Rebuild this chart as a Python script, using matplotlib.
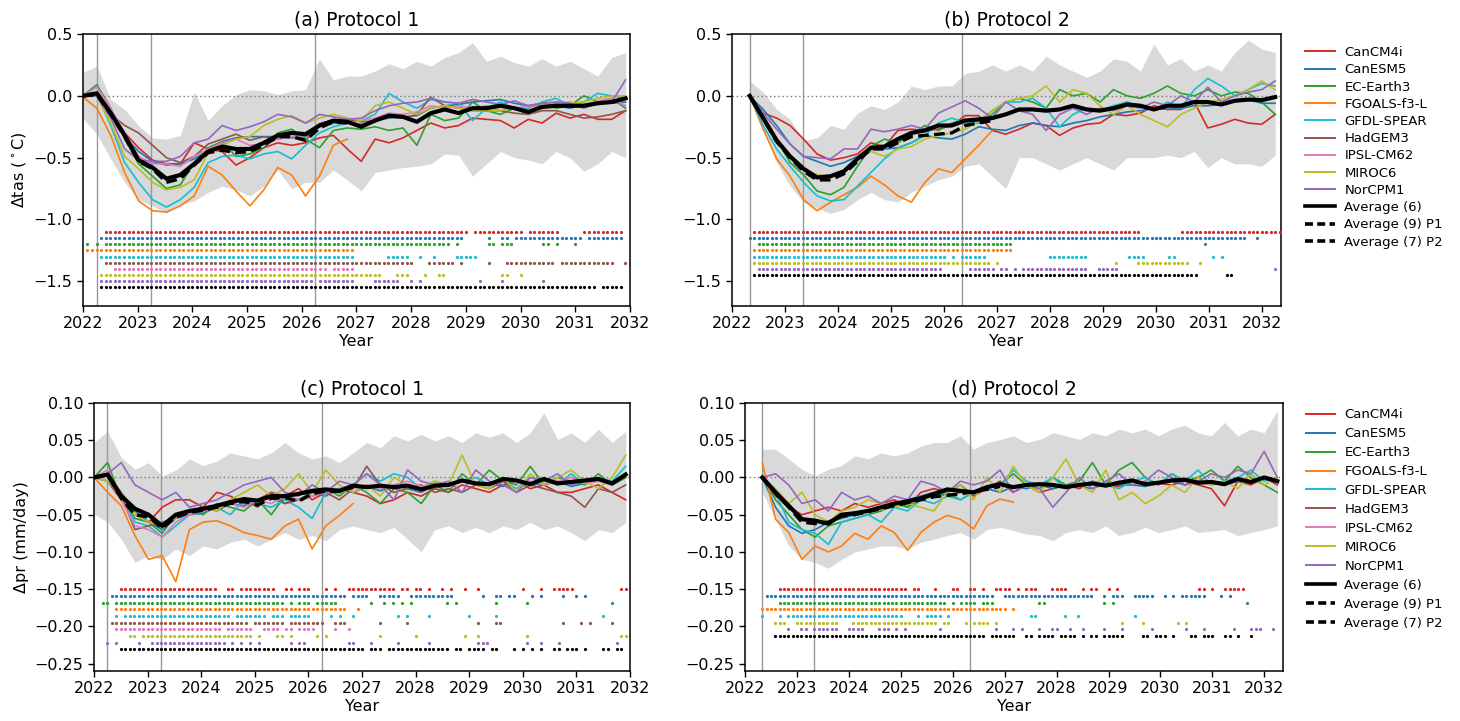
import numpy as np
import matplotlib
matplotlib.use("Agg")
import matplotlib.pyplot as plt
from matplotlib.lines import Line2D

# ---------------- metadata ----------------
models = ["CanCM4i", "CanESM5", "EC-Earth3", "FGOALS-f3-L", "GFDL-SPEAR",
          "HadGEM3", "IPSL-CM62", "MIROC6", "NorCPM1"]
model_colors = ["tab:red", "tab:blue", "tab:green", "tab:orange", "tab:cyan",
                "tab:brown", "tab:pink", "tab:olive", "tab:purple"]
p2_models = ["CanCM4i", "CanESM5", "EC-Earth3", "FGOALS-f3-L", "GFDL-SPEAR",
             "MIROC6", "NorCPM1"]
year_ticks = list(range(2022, 2033))
titles = ["(a) Protocol 1", "(b) Protocol 2", "(c) Protocol 1", "(d) Protocol 2"]
avg_labels = ["Average (6)", "Average (9) P1", "Average (7) P2"]

# time axes (start/end of the plotted series, in years)
p1_start, p1_end = 2022.0, 2031.92
p2_start, p2_end = 2022.333, 2032.25
n_pts = 40
p1_eruption = [2022.25, 2023.25, 2026.25]
p2_eruption = [2022.333, 2023.333, 2026.333]

nan = np.nan

# ---------------- (a) tas, protocol 1 ----------------
tas1_CanCM4i = [0.00, 0.03, -0.12, -0.30, -0.42, -0.52, -0.55, -0.55, -0.38, -0.43, -0.45, -0.56, -0.50, -0.42, -0.38, -0.40, -0.38, -0.34, -0.32, -0.43,
                -0.53, -0.35, -0.38, -0.34, -0.28, -0.22, -0.26, -0.24, -0.18, -0.19, -0.20, -0.26, -0.19, -0.22, -0.14, -0.18, -0.15, -0.19, -0.19, -0.12]
tas1_CanESM5 = [0.00, 0.00, -0.15, -0.33, -0.45, -0.53, -0.56, -0.55, -0.51, -0.44, -0.37, -0.34, -0.33, -0.33, -0.33, -0.34, -0.33, -0.25, -0.22, -0.22,
                -0.23, -0.20, -0.18, -0.17, -0.16, -0.10, -0.08, -0.07, -0.05, -0.04, -0.03, -0.06, -0.08, -0.06, -0.08, -0.10, -0.07, -0.05, -0.06, -0.05]
tas1_ECEarth3 = [0.00, 0.09, -0.10, -0.35, -0.55, -0.65, -0.75, -0.72, -0.54, -0.42, -0.37, -0.49, -0.47, -0.42, -0.30, -0.27, -0.35, -0.42, -0.28, -0.26,
                 -0.27, -0.25, -0.28, -0.26, -0.40, -0.15, -0.20, -0.18, -0.05, -0.12, -0.15, -0.10, -0.15, -0.05, -0.10, -0.08, 0.00, -0.05, -0.02, -0.10]
tas1_FGOALS = [-0.01, -0.10, -0.32, -0.62, -0.85, -0.93, -0.94, -0.89, -0.81, -0.57, -0.64, -0.77, -0.89, -0.76, -0.58, -0.64, -0.81, -0.65, -0.40, -0.35,
               nan, nan, nan, nan, nan, nan, nan, nan, nan, nan, nan, nan, nan, nan, nan, nan, nan, nan, nan, nan]
tas1_GFDL = [0.00, 0.01, -0.24, -0.54, -0.70, -0.84, -0.90, -0.84, -0.74, -0.54, -0.49, -0.48, -0.51, -0.47, -0.45, -0.51, -0.40, -0.30, -0.25, -0.22,
             -0.20, -0.15, 0.02, -0.05, -0.10, -0.03, -0.05, -0.06, -0.20, -0.10, -0.05, -0.10, -0.10, -0.05, -0.02, -0.08, -0.05, 0.02, 0.00, -0.02]
tas1_HadGEM3 = [0.00, 0.02, -0.15, -0.24, -0.30, -0.40, -0.50, -0.54, -0.49, -0.39, -0.35, -0.31, -0.36, -0.33, -0.35, -0.33, -0.36, -0.24, -0.20, -0.19,
                -0.21, -0.20, -0.17, -0.18, -0.15, -0.01, -0.08, -0.10, -0.12, -0.12, -0.12, -0.14, -0.15, -0.12, -0.12, -0.15, -0.18, -0.17, -0.15, -0.12]
tas1_IPSL = [0.00, 0.07, -0.10, -0.30, -0.49, -0.55, -0.55, -0.57, -0.49, -0.43, -0.38, -0.35, -0.40, -0.39, -0.35, -0.33, -0.32, -0.22, -0.20, -0.22,
             -0.20, -0.18, -0.14, -0.15, -0.13, -0.08, -0.10, -0.08, -0.10, -0.08, -0.12, -0.10, -0.08, -0.10, -0.06, -0.05, -0.08, -0.04, -0.02, -0.08]
tas1_MIROC6 = [0.00, 0.00, -0.22, -0.49, -0.59, -0.70, -0.76, -0.74, -0.68, -0.46, -0.40, -0.35, -0.33, -0.24, -0.19, -0.16, -0.22, -0.18, -0.15, -0.18,
               -0.20, -0.08, -0.05, -0.10, -0.15, -0.10, -0.08, -0.10, -0.12, -0.12, -0.12, -0.10, -0.12, -0.08, -0.05, -0.06, -0.05, -0.02, 0.00, 0.00]
tas1_NorCPM1 = [0.00, 0.00, -0.18, -0.43, -0.52, -0.53, -0.53, -0.49, -0.38, -0.35, -0.24, -0.28, -0.25, -0.21, -0.15, -0.17, -0.22, -0.15, -0.17, -0.19,
                -0.18, -0.12, -0.08, -0.06, -0.05, -0.02, -0.05, -0.06, -0.03, -0.05, -0.07, -0.04, -0.08, -0.06, -0.05, -0.06, -0.10, -0.06, -0.05, 0.13]
tas1_avg6 = [0.00, 0.02, -0.14, -0.32, -0.52, -0.58, -0.67, -0.64, -0.55, -0.45, -0.41, -0.43, -0.43, -0.38, -0.32, -0.30, -0.31, -0.24, -0.20, -0.21,
             -0.25, -0.20, -0.16, -0.17, -0.21, -0.14, -0.11, -0.14, -0.10, -0.10, -0.08, -0.10, -0.13, -0.09, -0.08, -0.08, -0.08, -0.06, -0.05, -0.02]
tas1_avg9 = [0.00, 0.01, -0.15, -0.33, -0.53, -0.59, -0.70, -0.67, -0.56, -0.46, -0.44, -0.46, -0.45, -0.40, -0.33, -0.33, -0.36, -0.26, -0.21, -0.22,
             nan, nan, nan, nan, nan, nan, nan, nan, nan, nan, nan, nan, nan, nan, nan, nan, nan, nan, nan, nan]
tas1_lo = [-0.18, -0.31, -0.51, -0.70, -0.84, -0.89, -0.95, -0.88, -0.85, -0.78, -0.73, -0.76, -0.81, -0.73, -0.60, -0.75, -0.70, -0.70, -0.60, -0.68,
           -0.77, -0.62, -0.60, -0.58, -0.57, -0.55, -0.47, -0.48, -0.65, -0.55, -0.45, -0.50, -0.52, -0.55, -0.45, -0.50, -0.61, -0.55, -0.45, -0.50]
tas1_hi = [0.19, 0.24, -0.03, -0.11, -0.24, -0.34, -0.35, -0.32, 0.03, -0.20, -0.08, 0.01, 0.05, 0.04, 0.01, 0.04, 0.05, 0.30, 0.13, 0.16,
           0.16, 0.20, 0.26, 0.22, 0.28, 0.24, 0.31, 0.35, 0.43, 0.28, 0.32, 0.27, 0.24, 0.30, 0.24, 0.28, 0.22, 0.16, 0.31, 0.35]

# ---------------- (b) tas, protocol 2 ----------------
tas2_CanCM4i = [0.00, -0.14, -0.18, -0.24, -0.35, -0.47, -0.52, -0.50, -0.47, -0.38, -0.41, -0.28, -0.27, -0.28, -0.27, -0.24, -0.16, -0.16, -0.28, -0.31,
                -0.27, -0.22, -0.24, -0.32, -0.26, -0.23, -0.22, -0.15, -0.16, -0.14, -0.08, -0.11, -0.11, -0.05, -0.26, -0.23, -0.19, -0.22, -0.23, -0.15]
tas2_CanESM5 = [0.00, -0.11, -0.24, -0.39, -0.49, -0.53, -0.57, -0.54, -0.49, -0.42, -0.43, -0.42, -0.38, -0.32, -0.34, -0.35, -0.31, -0.25, -0.27, -0.28,
                -0.24, -0.22, -0.24, -0.25, -0.22, -0.20, -0.17, -0.15, -0.13, -0.12, -0.10, -0.11, -0.10, -0.08, -0.08, -0.07, -0.04, -0.03, -0.06, -0.06]
tas2_ECEarth3 = [0.00, -0.16, -0.35, -0.54, -0.64, -0.77, -0.80, -0.74, -0.57, -0.41, -0.35, -0.38, -0.31, -0.24, -0.28, -0.22, -0.19, -0.22, -0.15, -0.05,
                 -0.02, -0.05, -0.10, 0.05, 0.00, 0.02, -0.05, 0.05, 0.00, -0.02, 0.02, 0.08, 0.02, 0.00, 0.05, 0.00, 0.03, 0.02, -0.05, -0.15]
tas2_FGOALS = [0.00, -0.27, -0.51, -0.65, -0.84, -0.93, -0.86, -0.80, -0.74, -0.65, -0.72, -0.81, -0.86, -0.70, -0.59, -0.62, -0.51, -0.40, -0.28,
               nan, nan, nan, nan, nan, nan, nan, nan, nan, nan, nan, nan, nan, nan, nan, nan, nan, nan, nan, nan, nan]
tas2_GFDL = [0.00, -0.24, -0.43, -0.57, -0.70, -0.81, -0.85, -0.84, -0.73, -0.62, -0.51, -0.42, -0.38, -0.32, -0.22, -0.18, -0.22, -0.22, -0.12, -0.05,
             -0.05, -0.02, -0.10, -0.25, -0.15, -0.10, -0.12, -0.08, -0.05, -0.08, -0.12, -0.05, -0.10, 0.05, 0.14, 0.08, 0.00, 0.05, 0.10, 0.08]
tas2_MIROC6 = [0.00, -0.15, -0.34, -0.49, -0.59, -0.64, -0.65, -0.62, -0.51, -0.45, -0.49, -0.43, -0.41, -0.35, -0.32, -0.30, -0.27, -0.20, -0.12, -0.05,
               -0.02, 0.00, 0.08, -0.05, 0.05, 0.02, -0.08, -0.15, -0.08, -0.15, -0.20, -0.25, -0.15, -0.10, -0.05, -0.03, 0.00, 0.05, 0.12, 0.05]
tas2_NorCPM1 = [0.00, -0.14, -0.27, -0.39, -0.49, -0.50, -0.51, -0.43, -0.43, -0.27, -0.29, -0.27, -0.24, -0.27, -0.14, -0.09, -0.04, -0.10, -0.18, -0.05,
                -0.12, -0.15, -0.28, -0.15, -0.10, -0.15, -0.10, -0.12, -0.08, -0.10, -0.05, -0.08, 0.00, -0.05, 0.07, -0.05, 0.00, 0.03, 0.05, 0.12]
tas2_avg6 = [0.00, -0.18, -0.36, -0.49, -0.59, -0.66, -0.65, -0.61, -0.51, -0.42, -0.41, -0.35, -0.30, -0.28, -0.24, -0.24, -0.20, -0.19, -0.18, -0.15,
             -0.11, -0.11, -0.12, -0.11, -0.08, -0.11, -0.12, -0.10, -0.07, -0.08, -0.11, -0.08, -0.08, -0.05, -0.05, -0.07, -0.04, -0.03, -0.035, -0.01]
tas2_avg7 = [0.00, -0.18, -0.37, -0.50, -0.61, -0.68, -0.68, -0.63, -0.53, -0.43, -0.43, -0.38, -0.33, -0.32, -0.31, -0.30, -0.24, -0.22, -0.20,
             nan, nan, nan, nan, nan, nan, nan, nan, nan, nan, nan, nan, nan, nan, nan, nan, nan, nan, nan, nan, nan]
tas2_lo = [0.00, -0.27, -0.54, -0.73, -0.86, -0.91, -0.95, -0.92, -0.84, -0.78, -0.84, -0.86, -0.78, -0.73, -0.68, -0.65, -0.57, -0.55, -0.65, -0.75,
           -0.50, -0.50, -0.55, -0.60, -0.55, -0.50, -0.55, -0.60, -0.50, -0.50, -0.50, -0.48, -0.50, -0.45, -0.58, -0.50, -0.55, -0.55, -0.57, -0.48]
tas2_hi = [0.12, 0.03, -0.11, -0.19, -0.36, -0.34, -0.24, -0.27, -0.14, -0.08, -0.11, -0.05, 0.08, 0.05, 0.08, 0.08, 0.18, 0.20, 0.25, 0.20,
           0.25, 0.20, 0.32, 0.25, 0.20, 0.15, 0.20, 0.30, 0.28, 0.20, 0.42, 0.25, 0.30, 0.20, 0.25, 0.20, 0.35, 0.45, 0.38, 0.35]

# ---------------- (c) pr, protocol 1 ----------------
pr1_CanCM4i = [0.0, -0.005, -0.03, -0.05, -0.06, -0.04, -0.03, -0.03, -0.04, -0.02, -0.025, -0.035, -0.03, -0.02, -0.025, -0.015, -0.03, -0.02, -0.015, -0.02,
               -0.025, -0.035, -0.03, -0.02, -0.025, -0.015, -0.02, -0.01, -0.015, -0.02, -0.01, -0.005, -0.015, -0.01, -0.02, -0.02, -0.015, -0.01, -0.02, -0.03]
pr1_CanESM5 = [0.0, 0.002, -0.02, -0.045, -0.06, -0.07, -0.055, -0.05, -0.048, -0.04, -0.035, -0.038, -0.03, -0.028, -0.035, -0.03, -0.02, -0.025, -0.015, -0.02,
               -0.012, -0.018, -0.01, -0.015, -0.02, -0.01, -0.012, -0.005, -0.01, -0.008, -0.012, -0.003, -0.008, -0.01, -0.005, -0.012, -0.008, -0.004, -0.01, 0.0]
pr1_ECEarth3 = [0.0, 0.02, -0.03, -0.055, -0.06, -0.075, -0.05, -0.045, -0.05, -0.035, -0.04, -0.045, -0.03, -0.05, -0.025, -0.03, -0.02, -0.015, -0.025, -0.01,
                -0.02, -0.035, -0.015, -0.02, -0.035, -0.01, -0.02, 0.005, -0.01, 0.01, -0.005, -0.01, 0.015, -0.01, 0.0, -0.005, -0.01, 0.005, -0.01, 0.0]
pr1_FGOALS = [0.0, -0.02, -0.038, -0.078, -0.11, -0.105, -0.14, -0.07, -0.06, -0.058, -0.065, -0.074, -0.078, -0.083, -0.065, -0.056, -0.096, -0.065, -0.051, -0.035,
              nan, nan, nan, nan, nan, nan, nan, nan, nan, nan, nan, nan, nan, nan, nan, nan, nan, nan, nan, nan]
pr1_GFDL = [0.0, -0.005, -0.025, -0.06, -0.065, -0.08, -0.065, -0.05, -0.045, -0.04, -0.05, -0.03, -0.035, -0.04, -0.03, -0.04, -0.055, -0.02, -0.015, -0.01,
            0.005, -0.005, 0.005, 0.0, -0.015, -0.005, -0.01, -0.005, 0.0, -0.01, -0.005, -0.015, 0.0, -0.005, -0.01, 0.005, -0.01, 0.0, -0.005, 0.015]
pr1_HadGEM3 = [0.0, 0.005, -0.025, -0.07, -0.065, -0.06, -0.055, -0.045, -0.04, -0.045, -0.035, -0.03, -0.04, -0.02, -0.035, -0.03, -0.025, -0.02, -0.03, -0.015,
               0.015, -0.01, -0.02, -0.015, -0.01, -0.02, -0.015, -0.02, -0.01, -0.015, -0.005, -0.02, -0.01, -0.015, -0.02, -0.025, -0.04, -0.015, -0.02, -0.01]
pr1_IPSL = [0.0, 0.01, -0.03, -0.065, -0.07, -0.08, -0.06, -0.05, -0.045, -0.04, -0.035, -0.04, -0.03, -0.035, -0.025, -0.03, -0.025, -0.02, -0.02, -0.015,
            -0.01, -0.015, -0.01, -0.005, -0.012, -0.008, -0.01, -0.005, -0.008, -0.01, 0.0, -0.008, -0.005, -0.01, -0.005, 0.0, -0.008, -0.005, -0.01, 0.005]
pr1_MIROC6 = [0.0, -0.005, -0.02, -0.05, -0.06, -0.065, -0.055, -0.045, -0.04, -0.045, -0.03, -0.02, -0.01, -0.025, -0.015, 0.005, -0.02, 0.01, -0.01, -0.02,
              -0.01, -0.025, 0.0, -0.01, -0.015, -0.005, -0.01, 0.03, -0.01, -0.015, 0.0, -0.02, 0.005, -0.01, 0.0, 0.01, -0.005, -0.015, 0.0, 0.03]
pr1_NorCPM1 = [0.0, 0.005, 0.02, -0.01, -0.02, -0.03, -0.02, -0.04, -0.035, -0.03, -0.02, -0.01, -0.005, 0.0, -0.02, -0.025, -0.01, -0.02, -0.005, -0.01,
               0.005, -0.01, -0.03, 0.01, -0.005, -0.01, -0.005, -0.02, 0.01, -0.005, -0.01, -0.02, 0.0, -0.005, 0.005, -0.01, -0.005, 0.0, -0.01, 0.005]
pr1_avg6 = [0.0, 0.004, -0.025, -0.042, -0.05, -0.065, -0.05, -0.045, -0.042, -0.038, -0.033, -0.029, -0.031, -0.025, -0.025, -0.022, -0.018, -0.016, -0.018, -0.011,
            -0.013, -0.011, -0.013, -0.011, -0.016, -0.011, -0.010, -0.004, -0.008, -0.009, -0.002, -0.004, -0.009, -0.002, -0.008, -0.006, -0.004, -0.002, -0.008, 0.004]
pr1_avg9 = [0.0, 0.003, -0.028, -0.05, -0.053, -0.068, -0.053, -0.047, -0.044, -0.04, -0.035, -0.032, -0.037, -0.028, -0.027, -0.032, -0.022, -0.018, -0.019, -0.013,
            nan, nan, nan, nan, nan, nan, nan, nan, nan, nan, nan, nan, nan, nan, nan, nan, nan, nan, nan, nan]
pr1_lo = [-0.049, -0.06, -0.083, -0.114, -0.105, -0.11, -0.096, -0.105, -0.092, -0.096, -0.087, -0.083, -0.092, -0.083, -0.074, -0.083, -0.078, -0.085, -0.07, -0.065,
          -0.07, -0.074, -0.067, -0.083, -0.1, -0.07, -0.065, -0.074, -0.067, -0.074, -0.065, -0.07, -0.06, -0.07, -0.065, -0.074, -0.085, -0.07, -0.074, -0.06]
pr1_hi = [0.047, 0.062, 0.027, 0.011, 0.02, 0.002, 0.01, 0.025, 0.016, 0.022, 0.033, 0.029, 0.025, 0.033, 0.047, 0.033, 0.025, 0.029, 0.02, 0.033,
          0.047, 0.04, 0.056, 0.049, 0.058, 0.049, 0.056, 0.047, 0.06, 0.054, 0.06, 0.047, 0.06, 0.087, 0.051, 0.06, 0.047, 0.065, 0.047, 0.062]

# ---------------- (d) pr, protocol 2 ----------------
pr2_CanCM4i = [0.0, -0.025, -0.04, -0.05, -0.045, -0.04, -0.045, -0.035, -0.04, -0.035, -0.03, -0.04, -0.02, -0.015, -0.02, -0.01, -0.025, -0.015, -0.005, -0.02,
               -0.01, -0.02, -0.015, -0.01, -0.015, -0.005, -0.01, -0.012, -0.005, -0.01, -0.008, -0.01, -0.005, -0.01, -0.015, -0.038, -0.005, -0.01, 0.0, -0.01]
pr2_CanESM5 = [0.0, -0.04, -0.065, -0.075, -0.07, -0.06, -0.055, -0.05, -0.045, -0.04, -0.038, -0.03, -0.025, -0.02, -0.025, -0.02, -0.018, -0.015, -0.02, -0.012,
               -0.015, -0.01, -0.015, -0.01, -0.012, -0.015, -0.008, -0.01, -0.01, -0.012, -0.008, -0.005, -0.01, -0.005, -0.008, -0.01, -0.005, -0.008, 0.0, -0.005]
pr2_ECEarth3 = [0.0, -0.03, -0.05, -0.07, -0.08, -0.065, -0.06, -0.055, -0.05, -0.045, -0.035, -0.04, -0.03, -0.025, -0.02, -0.03, -0.02, -0.015, -0.01, 0.005,
                -0.01, -0.015, 0.0, -0.01, -0.005, 0.02, -0.01, 0.01, 0.02, 0.0, -0.01, 0.005, -0.005, 0.0, 0.01, -0.005, 0.015, 0.0, -0.01, -0.02]
pr2_FGOALS = [0.02, -0.056, -0.074, -0.11, -0.092, -0.1, -0.092, -0.075, -0.083, -0.065, -0.074, -0.098, -0.074, -0.06, -0.051, -0.056, -0.069, -0.038, -0.029, -0.033,
              nan, nan, nan, nan, nan, nan, nan, nan, nan, nan, nan, nan, nan, nan, nan, nan, nan, nan, nan, nan]
pr2_GFDL = [0.0, -0.02, -0.06, -0.07, -0.075, -0.09, -0.06, -0.055, -0.05, -0.06, -0.04, -0.045, -0.03, -0.035, -0.025, -0.03, -0.02, -0.015, -0.01, 0.01,
            -0.005, -0.01, 0.0, -0.015, -0.01, -0.005, -0.01, -0.015, -0.005, 0.0, -0.01, 0.005, -0.005, 0.01, -0.01, -0.005, 0.0, 0.01, -0.005, 0.0]
pr2_MIROC6 = [0.0, -0.015, -0.035, -0.02, -0.05, -0.06, -0.045, -0.04, -0.03, -0.035, -0.04, -0.035, -0.04, -0.045, -0.02, -0.01, -0.03, 0.0, -0.02, 0.015,
              -0.01, -0.02, 0.0, 0.025, -0.01, -0.02, 0.01, -0.03, -0.02, -0.035, -0.025, -0.01, -0.02, 0.0, -0.01, -0.005, -0.015, 0.005, -0.01, 0.0]
pr2_NorCPM1 = [0.0, 0.005, -0.01, -0.035, -0.03, -0.045, -0.02, -0.03, -0.025, -0.035, -0.025, -0.03, -0.005, -0.01, -0.02, -0.005, -0.01, -0.005, 0.01, -0.02,
               -0.01, -0.015, -0.04, -0.02, 0.0, -0.015, -0.005, 0.005, -0.01, -0.005, 0.01, 0.0, -0.01, -0.005, 0.005, 0.0, 0.01, 0.005, 0.035, 0.0]
pr2_avg6 = [0.0, -0.02, -0.038, -0.056, -0.058, -0.062, -0.05, -0.048, -0.045, -0.04, -0.035, -0.032, -0.028, -0.022, -0.016, -0.018, -0.02, -0.013, -0.009, -0.013,
            -0.01, -0.009, -0.01, -0.013, -0.01, -0.008, -0.011, -0.007, -0.004, -0.009, -0.007, -0.004, -0.003, -0.007, -0.006, -0.009, -0.002, -0.006, 0.0, -0.005]
pr2_avg7 = [0.0, -0.021, -0.04, -0.06, -0.062, -0.06, -0.052, -0.05, -0.046, -0.042, -0.038, -0.034, -0.03, -0.026, -0.024, -0.022, -0.019, -0.016, -0.012,
            nan, nan, nan, nan, nan, nan, nan, nan, nan, nan, nan, nan, nan, nan, nan, nan, nan, nan, nan, nan, nan]
pr2_lo = [-0.02, -0.056, -0.092, -0.11, -0.114, -0.122, -0.11, -0.1, -0.096, -0.092, -0.092, -0.096, -0.087, -0.083, -0.078, -0.074, -0.083, -0.07, -0.067, -0.071,
          -0.076, -0.078, -0.085, -0.074, -0.07, -0.074, -0.065, -0.078, -0.074, -0.067, -0.074, -0.07, -0.065, -0.074, -0.072, -0.07, -0.078, -0.074, -0.07, -0.065]
pr2_hi = [0.038, 0.038, 0.025, 0.011, 0.002, 0.011, 0.016, 0.029, 0.025, 0.033, 0.029, 0.033, 0.042, 0.047, 0.047, 0.056, 0.038, 0.047, 0.051, 0.056,
          0.047, 0.051, 0.06, 0.056, 0.051, 0.06, 0.056, 0.065, 0.06, 0.065, 0.056, 0.065, 0.07, 0.06, 0.056, 0.074, 0.056, 0.065, 0.06, 0.09]

# ---------------- significance (start, end) in years, monthly dots ----------------
sig_tas1_CanCM4i = [(2022.40, 2029.00), (2029.13, 2030.00), (2030.15, 2030.66), (2031.20, 2031.82)]
sig_tas1_CanESM5 = [(2022.32, 2028.93), (2029.41, 2029.41), (2029.65, 2029.74), (2029.89, 2031.09), (2031.22, 2031.82)]
sig_tas1_ECEarth3 = [(2022.09, 2022.09), (2022.26, 2022.26), (2022.40, 2028.67), (2028.83, 2028.83), (2029.39, 2029.50), (2029.65, 2029.83),
                     (2030.39, 2030.50), (2030.66, 2030.66), (2030.99, 2030.99)]
sig_tas1_FGOALS = [(2022.09, 2026.92)]
sig_tas1_GFDL = [(2022.32, 2026.92), (2027.58, 2027.92), (2028.17, 2028.17), (2028.41, 2028.41), (2028.81, 2029.16)]
sig_tas1_HadGEM3 = [(2022.40, 2028.00), (2028.31, 2028.77), (2028.91, 2028.91), (2029.41, 2029.41), (2029.72, 2030.00), (2030.12, 2030.22),
                    (2030.32, 2030.59), (2030.73, 2031.67), (2031.90, 2031.90)]
sig_tas1_IPSL = [(2022.57, 2026.38), (2026.57, 2026.92)]
sig_tas1_MIROC6 = [(2022.32, 2027.42), (2027.73, 2027.92), (2028.23, 2028.23), (2028.49, 2028.58), (2029.65, 2029.74), (2029.98, 2029.98)]
sig_tas1_NorCPM1 = [(2022.32, 2026.19), (2026.32, 2026.92), (2027.30, 2027.73), (2028.00, 2028.00), (2028.17, 2028.17), (2029.23, 2029.23),
                    (2029.66, 2029.66), (2030.39, 2030.39)]
sig_tas1_avg = [(2022.32, 2031.36), (2031.47, 2031.82)]

sig_tas2_CanCM4i = [(2022.39, 2029.64), (2030.53, 2030.73), (2030.82, 2032.30)]
sig_tas2_CanESM5 = [(2022.32, 2031.06), (2031.18, 2031.65), (2031.89, 2031.89), (2032.04, 2032.04)]
sig_tas2_ECEarth3 = [(2022.49, 2027.06), (2027.19, 2027.28), (2030.88, 2030.88)]
sig_tas2_FGOALS = [(2022.42, 2027.21)]
sig_tas2_GFDL = [(2022.42, 2026.04), (2026.19, 2026.19), (2026.34, 2026.72), (2028.02, 2028.47), (2028.60, 2028.70), (2029.53, 2029.72),
                 (2030.21, 2030.30), (2031.10, 2031.10), (2031.27, 2031.27)]
sig_tas2_MIROC6 = [(2022.42, 2026.87), (2027.02, 2027.02), (2029.21, 2029.21), (2029.66, 2030.60), (2030.84, 2030.84)]
sig_tas2_NorCPM1 = [(2022.49, 2025.89), (2026.51, 2026.91), (2027.04, 2027.13), (2027.36, 2027.36), (2027.51, 2028.23), (2028.36, 2028.55),
                    (2028.68, 2028.68), (2028.93, 2029.23), (2030.04, 2030.04), (2032.25, 2032.25)]
sig_tas2_avg = [(2022.42, 2030.14), (2030.23, 2030.78), (2031.32, 2031.43)]

sig_pr1_CanCM4i = [(2022.49, 2024.29), (2024.48, 2024.58), (2024.74, 2025.35), (2025.58, 2025.70), (2025.82, 2026.01), (2026.33, 2026.33),
                   (2026.51, 2026.51), (2026.74, 2027.60), (2027.74, 2027.84), (2028.00, 2028.10), (2028.25, 2028.25), (2028.50, 2028.50),
                   (2028.67, 2028.67), (2028.92, 2028.92), (2029.17, 2029.17), (2029.99, 2029.99), (2030.33, 2030.33), (2030.57, 2030.94),
                   (2031.83, 2031.92)]
sig_pr1_CanESM5 = [(2022.32, 2026.68), (2026.82, 2027.10), (2027.33, 2027.70), (2027.90, 2028.39), (2028.50, 2028.50), (2028.59, 2028.68),
                   (2029.26, 2029.26), (2029.51, 2029.60), (2029.75, 2029.84), (2030.16, 2030.16), (2030.33, 2030.33), (2030.75, 2030.75),
                   (2031.00, 2031.00), (2031.18, 2031.18)]
sig_pr1_ECEarth3 = [(2022.15, 2022.27), (2022.40, 2025.53), (2025.66, 2025.66), (2025.82, 2025.97), (2026.15, 2026.52), (2027.17, 2027.17),
                    (2027.41, 2027.41), (2027.59, 2027.59), (2027.74, 2027.74), (2027.90, 2027.90), (2028.58, 2028.58), (2028.76, 2028.76),
                    (2029.51, 2029.51), (2030.08, 2030.08), (2031.67, 2031.67)]
sig_pr1_FGOALS = [(2022.40, 2026.70), (2026.92, 2026.92)]
sig_pr1_GFDL = [(2022.42, 2022.42), (2022.58, 2024.52), (2024.68, 2024.88), (2025.02, 2025.17), (2025.33, 2025.52), (2025.66, 2026.03),
                (2026.41, 2026.41), (2026.59, 2026.59), (2026.84, 2026.84), (2027.66, 2027.66), (2027.84, 2027.84), (2028.25, 2028.25),
                (2029.00, 2029.00), (2029.51, 2029.51), (2031.51, 2031.51)]
sig_pr1_HadGEM3 = [(2022.32, 2024.84), (2024.98, 2025.52), (2025.66, 2025.94), (2026.04, 2026.29), (2026.51, 2026.68), (2027.33, 2027.33),
                   (2027.84, 2027.84), (2029.17, 2029.17), (2029.51, 2029.60), (2030.75, 2030.75), (2031.08, 2031.08), (2031.26, 2031.26),
                   (2031.67, 2031.67)]
sig_pr1_IPSL = [(2022.40, 2024.33), (2024.48, 2024.95), (2025.17, 2025.42), (2025.58, 2025.70), (2025.82, 2026.09), (2026.51, 2026.51),
                (2026.76, 2026.76)]
sig_pr1_MIROC6 = [(2022.66, 2022.75), (2022.91, 2024.07), (2024.17, 2024.94), (2025.10, 2025.10), (2025.42, 2025.52), (2025.68, 2025.68),
                  (2026.17, 2026.17), (2026.35, 2026.35), (2027.33, 2027.33), (2028.00, 2028.00), (2028.92, 2028.92), (2029.17, 2029.17),
                  (2030.08, 2030.08), (2031.83, 2031.92)]
sig_pr1_NorCPM1 = [(2022.27, 2022.27), (2022.42, 2022.42), (2022.83, 2022.83), (2023.08, 2023.84), (2023.93, 2024.42), (2024.58, 2024.58),
                   (2024.76, 2024.76), (2024.93, 2024.93), (2025.10, 2025.10), (2025.65, 2025.65), (2025.82, 2025.91), (2026.76, 2026.84),
                   (2027.17, 2027.17), (2027.66, 2027.66), (2028.25, 2028.25), (2029.17, 2029.34), (2030.08, 2030.08), (2030.33, 2030.33),
                   (2030.67, 2030.67), (2031.75, 2031.75)]
sig_pr1_avg = [(2022.49, 2026.99), (2027.17, 2027.35), (2027.51, 2028.61), (2028.76, 2028.84), (2029.00, 2029.26), (2029.43, 2029.52),
               (2029.84, 2029.84), (2029.99, 2029.99), (2030.17, 2030.17), (2030.33, 2030.33), (2030.59, 2030.69), (2030.85, 2031.00),
               (2031.16, 2031.16), (2031.51, 2031.59), (2031.75, 2031.83)]

sig_pr2_CanCM4i = [(2022.66, 2025.11), (2025.26, 2025.35), (2025.68, 2025.68), (2026.00, 2026.10), (2026.34, 2026.44), (2026.59, 2026.59),
                   (2026.84, 2027.10), (2027.25, 2027.25), (2027.42, 2027.60), (2027.92, 2028.19), (2028.50, 2028.50), (2028.66, 2028.76),
                   (2029.00, 2029.00), (2029.17, 2029.17), (2030.74, 2030.83), (2031.00, 2031.00), (2031.25, 2031.59)]
sig_pr2_CanESM5 = [(2022.42, 2026.78), (2027.00, 2028.69), (2028.93, 2028.93), (2029.10, 2029.27), (2029.50, 2029.87), (2030.10, 2030.10),
                   (2030.26, 2030.26), (2030.42, 2030.83), (2031.18, 2031.18), (2031.34, 2031.34)]
sig_pr2_ECEarth3 = [(2022.66, 2025.05), (2025.18, 2025.50), (2025.62, 2025.85), (2026.00, 2026.00), (2026.17, 2026.44), (2026.59, 2026.76),
                    (2027.66, 2027.75), (2028.93, 2028.93), (2029.10, 2029.10), (2031.67, 2031.67)]
sig_pr2_FGOALS = [(2022.34, 2027.03), (2027.18, 2027.18)]
sig_pr2_GFDL = [(2022.34, 2022.34), (2022.69, 2022.69), (2022.84, 2025.01), (2025.35, 2025.35), (2025.50, 2025.77), (2025.92, 2025.92),
                (2027.51, 2027.60), (2028.18, 2028.18), (2028.42, 2028.42), (2029.50, 2029.50)]
sig_pr2_MIROC6 = [(2022.57, 2022.76), (2022.99, 2023.79), (2024.07, 2025.07), (2025.16, 2025.68), (2025.85, 2025.95), (2026.26, 2026.26),
                  (2026.42, 2026.67), (2026.84, 2026.84), (2029.25, 2029.25), (2029.68, 2029.68), (2030.34, 2030.34), (2030.51, 2030.51)]
sig_pr2_NorCPM1 = [(2022.85, 2022.85), (2023.09, 2023.18), (2023.33, 2023.79), (2024.00, 2024.25), (2024.54, 2024.78), (2024.95, 2024.95),
                   (2025.11, 2025.11), (2025.75, 2025.75), (2026.84, 2026.84), (2027.16, 2027.16), (2027.33, 2027.33), (2027.67, 2027.67),
                   (2027.92, 2028.02), (2028.26, 2028.26), (2028.50, 2028.50), (2028.91, 2028.91), (2029.25, 2029.25), (2029.84, 2029.84),
                   (2030.51, 2030.51), (2030.83, 2030.83), (2031.43, 2031.43), (2031.75, 2031.92), (2032.17, 2032.17)]
sig_pr2_avg = [(2022.59, 2026.61), (2026.76, 2027.18), (2027.42, 2027.52), (2027.67, 2027.92), (2028.08, 2028.34), (2028.50, 2028.50),
               (2028.66, 2028.76), (2028.93, 2029.00), (2029.10, 2029.27), (2029.68, 2029.77), (2029.92, 2030.10), (2030.26, 2030.26),
               (2030.58, 2030.68), (2030.83, 2031.02), (2031.25, 2031.34), (2031.50, 2031.50), (2031.75, 2031.75)]

# ---------------- assemble ----------------
panels = [
    dict(series=[tas1_CanCM4i, tas1_CanESM5, tas1_ECEarth3, tas1_FGOALS, tas1_GFDL, tas1_HadGEM3, tas1_IPSL, tas1_MIROC6, tas1_NorCPM1],
         names=models, avg6=tas1_avg6, avgd=tas1_avg9, lo=tas1_lo, hi=tas1_hi,
         sig=[sig_tas1_CanCM4i, sig_tas1_CanESM5, sig_tas1_ECEarth3, sig_tas1_FGOALS, sig_tas1_GFDL, sig_tas1_HadGEM3,
              sig_tas1_IPSL, sig_tas1_MIROC6, sig_tas1_NorCPM1, sig_tas1_avg],
         start=p1_start, end=p1_end, vl=p1_eruption, xlim=(2022, 2032.0),
         ylim=(-1.7, 0.5), yticks=[-1.5, -1.0, -0.5, 0.0, 0.5], yfmt="{:.1f}",
         row0=-1.1, drow=-0.05, ylabel="Δtas ($^\\circ$C)"),
    dict(series=[tas2_CanCM4i, tas2_CanESM5, tas2_ECEarth3, tas2_FGOALS, tas2_GFDL, tas2_MIROC6, tas2_NorCPM1],
         names=p2_models, avg6=tas2_avg6, avgd=tas2_avg7, lo=tas2_lo, hi=tas2_hi,
         sig=[sig_tas2_CanCM4i, sig_tas2_CanESM5, sig_tas2_ECEarth3, sig_tas2_FGOALS, sig_tas2_GFDL,
              sig_tas2_MIROC6, sig_tas2_NorCPM1, sig_tas2_avg],
         start=p2_start, end=p2_end, vl=p2_eruption, xlim=(2022, 2032.36),
         ylim=(-1.7, 0.5), yticks=[-1.5, -1.0, -0.5, 0.0, 0.5], yfmt="{:.1f}",
         row0=-1.1, drow=-0.05, ylabel=None),
    dict(series=[pr1_CanCM4i, pr1_CanESM5, pr1_ECEarth3, pr1_FGOALS, pr1_GFDL, pr1_HadGEM3, pr1_IPSL, pr1_MIROC6, pr1_NorCPM1],
         names=models, avg6=pr1_avg6, avgd=pr1_avg9, lo=pr1_lo, hi=pr1_hi,
         sig=[sig_pr1_CanCM4i, sig_pr1_CanESM5, sig_pr1_ECEarth3, sig_pr1_FGOALS, sig_pr1_GFDL, sig_pr1_HadGEM3,
              sig_pr1_IPSL, sig_pr1_MIROC6, sig_pr1_NorCPM1, sig_pr1_avg],
         start=p1_start, end=p1_end, vl=p1_eruption, xlim=(2022, 2032.0),
         ylim=(-0.26, 0.10), yticks=[-0.25, -0.20, -0.15, -0.10, -0.05, 0.00, 0.05, 0.10], yfmt="{:.2f}",
         row0=-0.15, drow=-0.009, ylabel="Δpr (mm/day)"),
    dict(series=[pr2_CanCM4i, pr2_CanESM5, pr2_ECEarth3, pr2_FGOALS, pr2_GFDL, pr2_MIROC6, pr2_NorCPM1],
         names=p2_models, avg6=pr2_avg6, avgd=pr2_avg7, lo=pr2_lo, hi=pr2_hi,
         sig=[sig_pr2_CanCM4i, sig_pr2_CanESM5, sig_pr2_ECEarth3, sig_pr2_FGOALS, sig_pr2_GFDL,
              sig_pr2_MIROC6, sig_pr2_NorCPM1, sig_pr2_avg],
         start=p2_start, end=p2_end, vl=p2_eruption, xlim=(2022, 2032.36),
         ylim=(-0.26, 0.10), yticks=[-0.25, -0.20, -0.15, -0.10, -0.05, 0.00, 0.05, 0.10], yfmt="{:.2f}",
         row0=-0.15, drow=-0.009, ylabel=None),
]

color_of = dict(zip(models, model_colors))

fig = plt.figure(figsize=(14.6, 7.21), dpi=100)
rects = [
    [0.0568, 0.5756, 0.3747, 0.3772],
    [0.5014, 0.5756, 0.3760, 0.3772],
    [0.0644, 0.0693, 0.3671, 0.3717],
    [0.5103, 0.0693, 0.3685, 0.3717],
]

for k, (p, rect) in enumerate(zip(panels, rects)):
    ax = fig.add_axes(rect)
    t = np.linspace(p["start"], p["end"], n_pts)
    ax.fill_between(t, np.array(p["lo"]), np.array(p["hi"]), color="#d9d9d9", lw=0, zorder=0)
    ax.axhline(0, color="#777777", ls=(0, (1, 2)), lw=1.0, zorder=1)
    for v in p["vl"]:
        ax.axvline(v, color="#999999", lw=1.0, zorder=1)
    for name, s in zip(p["names"], p["series"]):
        ax.plot(t, np.array(s, dtype=float), color=color_of[name], lw=1.2, zorder=2)
    ax.plot(t, np.array(p["avgd"], dtype=float), color="black", lw=2.4, ls=(0, (3.2, 1.6)), zorder=3)
    ax.plot(t, np.array(p["avg6"], dtype=float), color="black", lw=3.0, zorder=4)

    # significance dot rows
    months = p["start"] + np.arange(0, 125) / 12.0
    row_colors = [color_of[n] for n in p["names"]] + ["black"]
    for j, (ranges, c) in enumerate(zip(p["sig"], row_colors)):
        mask = np.zeros(months.shape, dtype=bool)
        for (s0, s1) in ranges:
            mask |= (months >= s0 - 0.04) & (months <= s1 + 0.04)
        yrow = p["row0"] + j * p["drow"]
        ax.plot(months[mask], np.full(mask.sum(), yrow), "o", ms=2.3, mew=0, color=c, zorder=3)

    ax.set_xlim(*p["xlim"])
    ax.set_ylim(*p["ylim"])
    ax.set_xticks(year_ticks)
    ax.set_xticklabels([str(y) for y in year_ticks])
    ax.set_yticks(p["yticks"])
    ax.set_yticklabels([p["yfmt"].format(v).replace("-", "\u2212") for v in p["yticks"]])
    ax.tick_params(labelsize=11.5, length=4, width=1.0)
    for sp in ax.spines.values():
        sp.set_linewidth(1.1)
    ax.set_title(titles[k], fontsize=13.5, pad=6)
    ax.set_xlabel("Year", fontsize=11.5, labelpad=2)
    if p["ylabel"]:
        ax.set_ylabel(p["ylabel"], fontsize=11.5)

    if k in (1, 3):
        handles = [Line2D([], [], color=c, lw=1.4) for c in model_colors]
        handles += [Line2D([], [], color="black", lw=2.6),
                    Line2D([], [], color="black", lw=2.6, ls=(0, (2.2, 1.2))),
                    Line2D([], [], color="black", lw=2.6, ls=(0, (2.2, 1.2)))]
        labels = models + avg_labels
        if k == 1:
            ax.legend(handles, labels, loc="upper left", bbox_to_anchor=(1.035, 0.975),
                      frameon=False, fontsize=9.5, borderaxespad=0, labelspacing=0.32,
                      handlelength=2.2, handletextpad=0.75)
        else:
            ax.legend(handles, labels, loc="upper left", bbox_to_anchor=(1.032, 1.0),
                      frameon=False, fontsize=9.5, borderaxespad=0, labelspacing=0.45,
                      handlelength=2.2, handletextpad=0.75)

fig.savefig("out.png", dpi=100)
